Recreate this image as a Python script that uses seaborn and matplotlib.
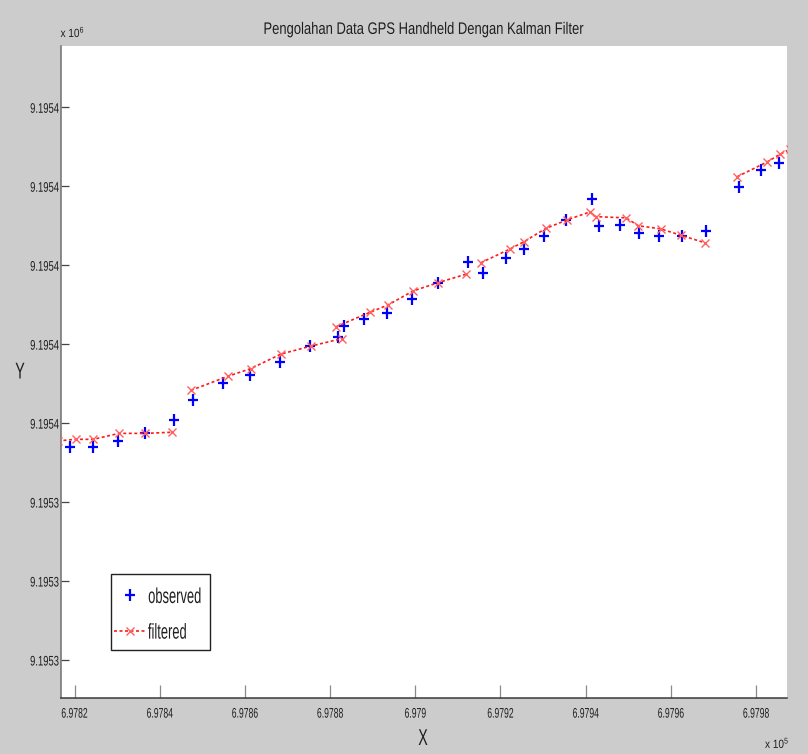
import numpy as np
import pandas as pd
import matplotlib
matplotlib.use("Agg")
import matplotlib.pyplot as plt
from matplotlib.path import Path
from matplotlib.patches import Rectangle
from matplotlib.patheffects import AbstractPathEffect
from matplotlib.transforms import Affine2D
import seaborn as sns

# Observed GPS fixes (easting / northing, metres, UTM)
obs_x = [697819.01, 697824.27, 697830.14, 697836.48, 697843.29, 697847.89,
         697854.98, 697861.21, 697868.18, 697875.37, 697881.94, 697883.21,
         697887.97, 697893.44, 697899.17, 697905.42, 697912.32, 697915.92,
         697921.24, 697925.54, 697930.17, 697935.40, 697941.44, 697943.08,
         697948.15, 697952.54, 697957.17, 697962.57, 697968.34, 697976.02,
         697981.12, 697985.41]
obs_y = [9195349.39, 9195349.39, 9195349.55, 9195349.74, 9195350.07, 9195350.58,
         9195351.01, 9195351.21, 9195351.56, 9195351.95, 9195352.19, 9195352.47,
         9195352.63, 9195352.80, 9195353.14, 9195353.56, 9195354.08, 9195353.79,
         9195354.19, 9195354.41, 9195354.74, 9195355.15, 9195355.68, 9195354.99,
         9195355.02, 9195354.81, 9195354.74, 9195354.75, 9195354.87, 9195355.99,
         9195356.41, 9195356.60]

# Kalman-filtered track, drawn as separate track segments
filt_x = [697816.13, 697820.28, 697824.41, 697830.45, 697836.62, 697842.96,
          697847.35, 697856.11, 697861.37, 697868.49, 697875.46, 697882.74,
          697881.40, 697889.45, 697893.54, 697899.55, 697905.42, 697911.85,
          697915.37, 697922.25, 697925.61, 697930.64, 697935.71, 697941.04,
          697942.38, 697949.49, 697952.38, 697957.64, 697962.33, 697967.97,
          697975.55, 697982.53, 697985.65, 697988.00]
filt_y = [9195349.55, 9195349.59, 9195349.59, 9195349.74, 9195349.74, 9195349.77,
          9195350.83, 9195351.19, 9195351.38, 9195351.75, 9195351.95, 9195352.14,
          9195352.44, 9195352.81, 9195352.99, 9195353.35, 9195353.56, 9195353.77,
          9195354.06, 9195354.41, 9195354.60, 9195354.93, 9195355.15, 9195355.35,
          9195355.23, 9195355.20, 9195355.00, 9195354.92, 9195354.76, 9195354.57,
          9195356.24, 9195356.61, 9195356.81, 9195356.94]
filt_seg = [0] * 6 + [1] * 6 + [2] * 6 + [3] * 12 + [4] * 4

x_ticks = [697820, 697840, 697860, 697880, 697900, 697920, 697940, 697960, 697980]
x_tick_labels = ["6.9782", "6.9784", "6.9786", "6.9788", "6.979",
                 "6.9792", "6.9794", "6.9796", "6.9798"]
y_ticks = [9195344, 9195346, 9195348, 9195350, 9195352, 9195354, 9195356, 9195358]
y_tick_labels = ["9.1953", "9.1953", "9.1953", "9.1954", "9.1954",
                 "9.1954", "9.1954", "9.1954"]


class Condense(AbstractPathEffect):
    """Draw text glyphs horizontally condensed about a left/center/right pivot."""

    def __init__(self, sx, anchor="center"):
        super().__init__()
        self.sx = sx
        self.anchor = anchor

    def draw_path(self, renderer, gc, tpath, affine, rgbFace=None):
        ext = tpath.get_extents()
        if self.anchor == "left":
            px = ext.x0
        elif self.anchor == "right":
            px = ext.x1
        else:
            px = 0.5 * (ext.x0 + ext.x1)
        squeeze = Affine2D().translate(-px, 0).scale(self.sx, 1).translate(px, 0)
        renderer.draw_path(gc, tpath, squeeze + affine, rgbFace)


sns.set_theme(style="white")
plt.rcParams["font.family"] = ["Liberation Sans", "DejaVu Sans"]
plt.rcParams["mathtext.fontset"] = "custom"
plt.rcParams["mathtext.rm"] = "Liberation Sans"
plt.rcParams["mathtext.it"] = "Liberation Sans"

TXT = "#1e1e1e"
fig = plt.figure(figsize=(8.08, 7.54), dpi=100, facecolor="#cccccc")
W, H = 808, 754
ax = fig.add_axes([61.3 / W, 1 - 698.3 / H, (786.7 - 61.3) / W, (698.3 - 45.7) / H])
ax.set_facecolor("white")

obs = pd.DataFrame({"x": obs_x, "y": obs_y})
filt = pd.DataFrame({"x": filt_x, "y": filt_y, "seg": filt_seg})

plus = Path([(0, -1), (0, 1), (-0.78, 0), (0.78, 0)],
            [Path.MOVETO, Path.LINETO, Path.MOVETO, Path.LINETO])

sns.lineplot(data=obs, x="x", y="y", estimator=None, sort=False, ax=ax,
             color="#0000ff", linestyle="", marker=plus, markersize=9,
             markeredgewidth=1.6, markeredgecolor="#0000ff", legend=False,
             zorder=3)
sns.lineplot(data=filt, x="x", y="y", units="seg", estimator=None, sort=False,
             ax=ax, color="#ff1a1a", linewidth=1.2, dashes=False,
             marker="x", markersize=5.5, markeredgewidth=1.0,
             markeredgecolor="#ff6060", legend=False, zorder=4)
for ln in ax.get_lines()[1:]:
    ln.set_dashes((1.8, 1.5))

ax.set_xlim(697816.90, 697987.22)
ax.set_ylim(9195343.03, 9195359.56)

ax.set_xticks(x_ticks)
ax.set_xticklabels(x_tick_labels)
ax.set_yticks(y_ticks)
ax.set_yticklabels(y_tick_labels)
ax.tick_params(axis="x", direction="in", length=9.4, width=0.9, color="#8a8a8a",
               pad=6.0, labelsize=10, labelcolor=TXT, bottom=True)
ax.tick_params(axis="y", direction="in", length=5.8, width=0.9, color="#444444",
               pad=1.8, labelsize=10, labelcolor=TXT, left=True)
for lab in ax.get_xticklabels():
    lab.set_path_effects([Condense(0.62, "center")])
for lab in ax.get_yticklabels():
    lab.set_path_effects([Condense(0.68, "right")])

for side in ("top", "right"):
    ax.spines[side].set_visible(False)
ax.spines["left"].set_color("#707070")
ax.spines["left"].set_linewidth(1.1)
ax.spines["bottom"].set_color("#3a3a3a")
ax.spines["bottom"].set_linewidth(1.1)

title = ax.set_title("Pengolahan Data GPS Handheld Dengan Kalman Filter",
                     fontsize=12, color=TXT, pad=8.5)
title.set_path_effects([Condense(0.78, "center")])

xl = ax.set_xlabel("X", fontsize=16.5, color=TXT)
ax.xaxis.set_label_coords((423 - 61.3) / 725.4, -(745 - 698.3) / 652.6)
xl.set_va("baseline")
xl.set_path_effects([Condense(0.62, "center")])
yl = ax.set_ylabel("Y", fontsize=16.5, color=TXT, rotation=0)
ax.yaxis.set_label_coords((20 - 61.3) / 725.4, (698.3 - 372) / 652.6)
yl.set_va("center")
yl.set_ha("center")
yl.set_path_effects([Condense(0.62, "center")])

# axis multiplier annotations
for xpos, ybase, txt in ((60.5, 37, r"x 10$^{6}$"), (765, 748, r"x 10$^{5}$")):
    t = fig.text(xpos / W, 1 - ybase / H, txt, fontsize=8.5, color=TXT,
                 ha="left", va="baseline")
    t.set_path_effects([Condense(0.85, "left")])

# legend entries, with a plain square frame around them
lines = ax.get_lines()
leg = ax.legend([lines[0], lines[1]], ["observed", "filtered"],
                loc="upper left", bbox_to_anchor=((114 - 61.3) / 725.4, (698.3 - 587) / 652.6),
                borderaxespad=0, borderpad=0, frameon=False, numpoints=1,
                fontsize=15.5, handlelength=1.45, handletextpad=0.12,
                labelspacing=0.68)
for t in leg.get_texts():
    t.set_color(TXT)
    t.set_path_effects([Condense(0.6, "left")])
leg.set_zorder(6)
ax.add_patch(Rectangle(((111 - 61.3) / 725.4, (698.3 - 650.3) / 652.6),
                       99 / 725.4, 76 / 652.6, transform=ax.transAxes,
                       facecolor="white", edgecolor="#222222", linewidth=1.0,
                       zorder=5))

fig.savefig("out.png", dpi=100, facecolor=fig.get_facecolor())
